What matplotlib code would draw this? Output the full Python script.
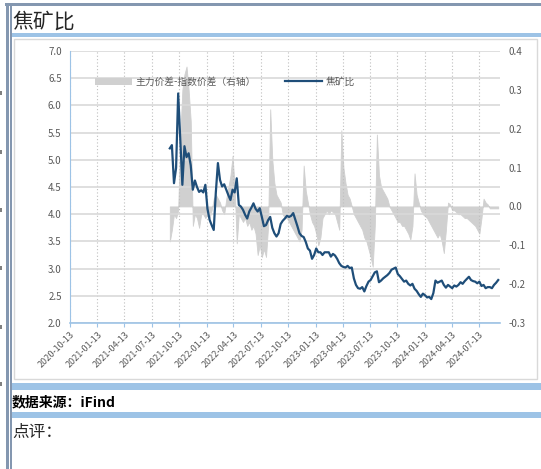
import numpy as np
import pandas as pd
import matplotlib
matplotlib.use('Agg')
import matplotlib.pyplot as plt
import matplotlib.dates as mdates
from matplotlib.patches import Rectangle, Patch
from matplotlib.lines import Line2D

plt.rcParams['font.family'] = ['Noto Sans CJK SC', 'DejaVu Sans']

dates = pd.date_range('2021-09-12', periods=158, freq='7D')

# 焦矿比 (left axis)
ratio = [5.21, 5.27, 4.57, 4.85, 6.22, 5.36, 4.54, 5.25, 5.05, 5.12,
         4.90, 4.45, 4.62, 4.50, 4.41, 4.44, 4.40, 4.54, 4.10, 3.90,
         3.80, 3.71, 4.40, 4.94, 4.63, 4.51, 4.55, 4.45, 4.35, 4.26,
         4.45, 4.40, 4.66, 4.17, 4.14, 4.08, 3.99, 3.92, 4.05, 4.12,
         4.20, 4.10, 4.05, 4.11, 3.95, 3.78, 3.80, 3.89, 3.95, 3.75,
         3.65, 3.59, 3.65, 3.82, 3.88, 3.92, 3.97, 3.95, 3.97, 4.02,
         3.90, 3.78, 3.65, 3.60, 3.58, 3.49, 3.37, 3.33, 3.18, 3.25,
         3.37, 3.30, 3.30, 3.25, 3.30, 3.30, 3.30, 3.22, 3.27, 3.24,
         3.18, 3.10, 3.05, 3.03, 3.02, 3.05, 3.01, 3.02, 2.82, 2.70,
         2.64, 2.63, 2.66, 2.58, 2.68, 2.76, 2.79, 2.86, 2.93, 2.95,
         2.75, 2.78, 2.82, 2.85, 2.88, 2.92, 2.98, 3.00, 3.02, 2.90,
         2.86, 2.81, 2.76, 2.78, 2.72, 2.69, 2.72, 2.63, 2.59, 2.53,
         2.48, 2.54, 2.51, 2.47, 2.48, 2.44, 2.55, 2.78, 2.74, 2.76,
         2.78, 2.70, 2.65, 2.70, 2.67, 2.64, 2.69, 2.67, 2.70, 2.75,
         2.72, 2.77, 2.81, 2.85, 2.79, 2.77, 2.76, 2.73, 2.76, 2.68,
         2.70, 2.64, 2.66, 2.66, 2.64, 2.70, 2.74, 2.79]

# 主力价差-指数价差 (right axis)
spread = [-0.09, -0.06, -0.02, -0.03, -0.01, 0.18, 0.30, 0.34, 0.36, 0.30,
          0.22, -0.05, -0.02, -0.03, -0.055, -0.02, -0.02, -0.03, -0.02, -0.03,
          -0.01, 0.02, 0.03, 0.02, 0.01, -0.01, -0.02, 0.02, 0.05, 0.08,
          0.13, 0.05, -0.095, -0.02, -0.03, -0.04, -0.03, -0.05, -0.04, -0.06,
          -0.05, -0.07, -0.125, -0.10, -0.13, -0.11, -0.13, -0.05, 0.25, 0.12,
          0.06, 0.03, 0.02, 0.01, -0.02, -0.03, -0.03, -0.04, -0.05, -0.06,
          -0.07, -0.08, -0.09, -0.06, 0.105, 0.04, 0.01, -0.02, -0.04, -0.05,
          -0.07, -0.10, -0.08, -0.03, -0.02, -0.01, -0.02, -0.01, -0.015, -0.02,
          -0.04, -0.06, 0.196, 0.10, 0.06, 0.03, 0.02, 0.00, -0.02, -0.03,
          -0.04, -0.05, -0.06, -0.08, -0.09, -0.11, -0.13, -0.155, -0.05, 0.185,
          0.08, 0.05, 0.04, 0.03, 0.02, 0.00, -0.01, -0.02, -0.03, -0.04,
          -0.04, -0.05, -0.05, -0.06, -0.07, -0.085, -0.05, 0.085, 0.03, 0.01,
          -0.01, -0.02, -0.025, -0.03, -0.04, -0.05, -0.06, -0.07, -0.08, -0.07,
          -0.09, -0.12, -0.06, 0.01, 0.005, -0.01, -0.01, -0.015, -0.02, -0.02,
          -0.025, -0.03, -0.03, -0.035, -0.04, -0.045, -0.05, -0.06, -0.07, -0.03,
          0.02, 0.01, 0.005, -0.005, -0.005, -0.005, -0.005, -0.005]

tick_dates = pd.to_datetime(['2020-10-13', '2021-01-13', '2021-04-13', '2021-07-13',
                             '2021-10-13', '2022-01-13', '2022-04-13', '2022-07-13',
                             '2022-10-13', '2023-01-13', '2023-04-13', '2023-07-13',
                             '2023-10-13', '2024-01-13', '2024-04-13', '2024-07-13'])
x_end = pd.Timestamp('2024-09-21')
left_ticks = [2.0, 2.5, 3.0, 3.5, 4.0, 4.5, 5.0, 5.5, 6.0, 6.5, 7.0]
right_ticks = [-0.3, -0.2, -0.1, 0.0, 0.1, 0.2, 0.3, 0.4]

W, H = 541, 469
fig = plt.figure(figsize=(W / 100, H / 100), dpi=100)


def box(x0, y0, x1, y1, color, edge='none', z=-5):
    fig.patches.append(Rectangle((x0 / W, 1 - y1 / H), (x1 - x0) / W, (y1 - y0) / H,
                                 transform=fig.transFigure, facecolor=color,
                                 edgecolor=edge, linewidth=1, zorder=z))


# page decoration
box(5, 3, W, 6, '#8497b0')
box(6, 3, 8.5, H, '#8497b0')
box(10, 3, 12, H, '#8497b0')
for yy in [93, 152, 210, 268, 327, 384]:
    box(0, yy - 2, 2, yy + 2, '#808080')
box(12, 33, W, 37, '#9dc3e6')
box(14, 39, 537, 379, 'white', edge='#d9d9d9', z=-6)
box(12, 383, W, 390, '#9dc3e6')
box(12, 412, W, 418, '#9dc3e6')

fig.text(12 / W, 1 - 22 / H, '焦矿比', fontsize=15, va='center', color='#262626')
fig.text(12 / W, 1 - 402 / H, '数据来源：iFind', fontsize=10, va='center',
         fontweight='bold', color='black')
fig.text(12 / W, 1 - 432 / H, '点评：', fontsize=12, va='center', color='#262626')

# chart
ax = fig.add_axes([70 / W, 1 - 323 / H, 430 / W, 272 / H])
ax2 = ax.twinx()
ax.set_zorder(ax2.get_zorder() + 1)
ax.patch.set_visible(False)

ax2.fill_between(dates, 0, spread, color='#d0d0d0', linewidth=0.6,
                 edgecolor='#d0d0d0')
ax.plot(dates, ratio, color='#1f4e79', linewidth=1.6)

ax.set_xlim(tick_dates[0], x_end)
ax.set_ylim(2, 7)
ax2.set_ylim(-0.3, 0.4)
ax.set_yticks(left_ticks)
ax.set_yticklabels([f'{v:.1f}' for v in left_ticks])
ax2.set_yticks(right_ticks)
ax2.set_yticklabels([f'{v:.1f}' for v in right_ticks])
ax.set_xticks(tick_dates)
ax.set_xticklabels([d.strftime('%Y-%m-%d') for d in tick_dates], rotation=45,
                   ha='right', rotation_mode='anchor')

ax.yaxis.grid(True, color='#d9d9d9', linewidth=1.2)
ax.xaxis.grid(True, color='#bfbfbf', linestyle=(0, (1, 2)), linewidth=0.8)
ax.set_axisbelow(True)

for a in (ax, ax2):
    for s in a.spines.values():
        s.set_visible(False)
ax.spines['left'].set_visible(True)
ax.spines['left'].set_color('#9dc3e6')
ax.spines['bottom'].set_visible(True)
ax.spines['bottom'].set_color('#9dc3e6')
ax.spines['bottom'].set_linewidth(1.2)

ax.tick_params(axis='y', length=0, labelsize=7, labelcolor='#595959', pad=6)
ax.tick_params(axis='x', length=3, color='#9dc3e6', labelsize=6.5,
               labelcolor='#595959', pad=2)
ax2.tick_params(axis='y', length=0, labelsize=7, labelcolor='#595959', pad=6)

handles = [Patch(facecolor='#d0d0d0', edgecolor='none'),
           Line2D([], [], color='#1f4e79', linewidth=1.6)]
labels = ['主力价差-指数价差（右轴）', '焦矿比']
fig.legend(handles, labels, loc='center left', bbox_to_anchor=(86 / W, 1 - 82 / H),
           ncol=2, frameon=False, fontsize=7, labelcolor='#595959',
           handlelength=3.8, handleheight=0.8, columnspacing=3.0, handletextpad=0.4)

fig.savefig('out.png', dpi=100)
